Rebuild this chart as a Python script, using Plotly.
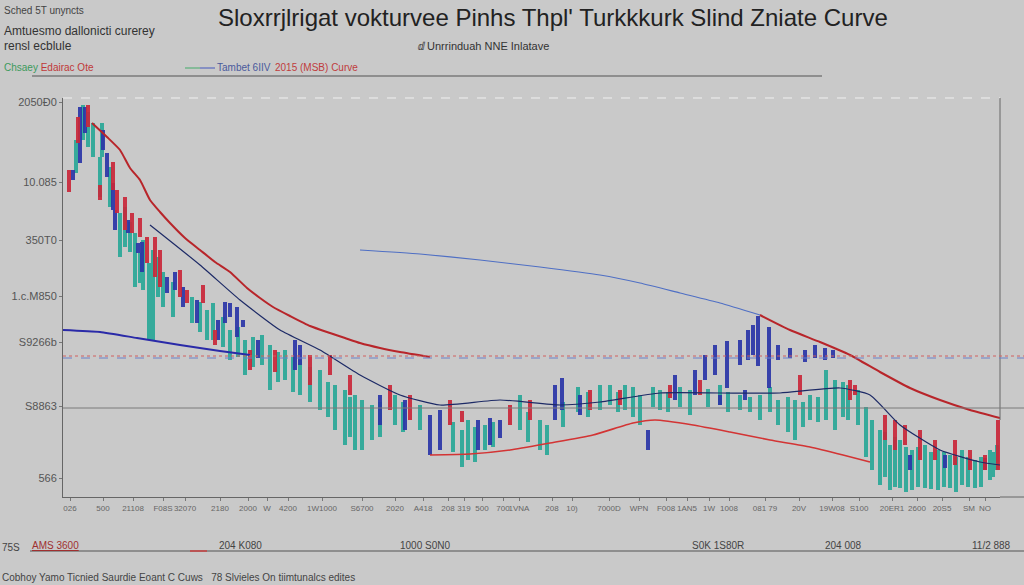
import plotly.graph_objects as go

# ---- data (arbitrary units) ----
red_upper_x = [29, 44, 57, 67, 77, 87, 97, 107, 122, 137, 152, 167, 184, 197, 210, 227, 247, 267, 282, 297, 317, 337, 367]
red_upper_y = [374, 360, 347, 329, 317, 297, 285, 274, 259, 247, 235, 225, 209, 199, 190, 181, 171, 164, 159, 154, 149, 145, 140]

thin_blue_x = [297, 357, 417, 477, 537, 577, 617, 657, 697]
thin_blue_y = [247, 243, 237, 230, 222, 214, 204, 194, 182]

red_right_x = [697, 727, 757, 787, 817, 847, 877, 907, 937]
red_right_y = [182, 167, 155, 142, 125, 109, 97, 87, 79]

red_lower_x = [367, 407, 447, 487, 530, 570, 592, 630, 667, 707, 747, 780, 807]
red_lower_y = [42, 43, 47, 54, 62, 74, 77, 72, 65, 57, 50, 42, 35]

blue_left_x = [0, 37, 74, 117, 157, 187]
blue_left_y = [167, 165, 159, 152, 146, 142]

navy_x = [87, 137, 177, 217, 257, 297, 337, 377, 437, 497, 537, 597, 657, 717, 777, 807, 837, 877, 917, 937]
navy_y = [272, 232, 197, 167, 147, 122, 102, 92, 97, 92, 95, 104, 104, 104, 109, 102, 72, 47, 35, 32]

teal_x = [13, 20, 30, 37, 39, 57, 72, 77, 80, 86, 90, 129, 144, 150, 167, 182, 199, 207, 222, 237, 257, 272, 282, 292,
          299, 309, 332, 357, 399, 405, 422, 457, 477, 484, 537, 547, 562, 577, 597, 627, 657, 677, 697, 715, 732, 747,
          763, 772, 785, 795, 809, 817, 827, 837, 849, 862, 875, 887, 899, 912, 927, 934,
          25, 47, 62, 67, 95, 100, 110, 137, 160, 175, 190, 215, 230, 247, 265, 287, 317, 340, 390, 412, 430, 465,
          500, 515, 525, 555, 570, 590, 605, 617, 645, 665, 687, 707, 725, 740, 755, 780, 803, 822, 832, 843, 855,
          868, 881, 893, 905, 918, 930]
teal_lo = [324, 357, 340, 300, 340, 240, 210, 214, 207, 157, 157, 174, 157, 157, 137, 122, 132, 107, 117, 102, 87, 67, 52, 47,
           47, 57, 72, 67, 30, 37, 47, 67, 47, 42, 87, 92, 87, 72, 87, 82, 92, 87, 77, 72, 57, 77,
           77, 67, 77, 72, 27, 12, 7, 9, 7, 9, 7, 9, 12, 9, 17, 27,
           350, 290, 250, 245, 200, 190, 180, 165, 150, 140, 130, 115, 105, 95, 80, 60, 60, 65, 45, 35, 50, 55,
           70, 85, 80, 85, 80, 90, 85, 90, 90, 85, 85, 85, 65, 70, 75, 80, 40, 20, 10, 5, 10,
           8, 10, 5, 10, 10, 20]
teal_hi = [357, 392, 374, 340, 374, 284, 264, 244, 257, 234, 247, 200, 187, 194, 167, 157, 162, 152, 147, 137, 127, 112, 107, 102,
           97, 92, 102, 92, 67, 77, 72, 102, 77, 72, 112, 112, 112, 102, 107, 107, 112, 102, 102, 97, 97, 102,
           127, 117, 112, 107, 77, 67, 52, 57, 47, 52, 47, 42, 47, 37, 47, 52,
           385, 330, 290, 275, 240, 225, 215, 195, 180, 170, 160, 145, 140, 130, 115, 100, 95, 95, 75, 70, 75, 85,
           95, 110, 105, 105, 110, 110, 105, 110, 108, 105, 100, 110, 100, 95, 100, 115, 90, 65, 60, 50, 50,
           45, 45, 40, 40, 40, 45]

blue_x = [10, 17, 22, 40, 44, 50, 52, 65, 75, 79, 104, 112, 120, 134, 155, 162, 167, 174, 180, 195, 232, 237, 317, 342,
          367, 377, 415, 427, 437, 492, 499, 517, 585, 612, 632, 642, 652, 664, 677, 685, 690, 695, 706, 715, 727, 742,
          752, 762, 770, 657, 682, 847, 882, 922]
blue_lo = [317, 334, 364, 347, 320, 287, 267, 264, 244, 225, 204, 207, 190, 174, 157, 174, 180, 160, 170, 139, 127, 132, 72, 67,
           42, 47, 47, 52, 59, 77, 87, 82, 47, 97, 102, 117, 122, 109, 132, 137, 142, 131, 109, 137, 139, 135,
           139, 137, 139, 92, 97, 27, 29, 27]
blue_hi = [327, 390, 390, 367, 344, 314, 287, 277, 254, 255, 220, 225, 210, 197, 177, 195, 194, 190, 177, 157, 157, 152, 102, 97,
           82, 87, 77, 79, 77, 112, 119, 102, 67, 122, 127, 142, 152, 156, 157, 167, 172, 181, 170, 152, 149, 147,
           152, 149, 147, 102, 107, 42, 42, 39]

red_x = [6, 15, 25, 37, 50, 54, 62, 69, 77, 84, 92, 97, 117, 124, 140, 152, 187, 212, 247, 267, 287, 327, 347, 387, 399,
         447, 467, 527, 557, 607, 637, 737, 787, 792, 822, 832, 842, 857, 872, 892, 907, 922, 935]
red_lo = [305, 354, 370, 297, 307, 284, 267, 264, 260, 234, 220, 210, 200, 194, 194, 152, 127, 125, 112, 122, 102, 87, 77, 72, 75,
          72, 77, 87, 92, 99, 102, 102, 97, 102, 57, 47, 52, 37, 37, 32, 27, 27, 27]
red_hi = [327, 380, 392, 312, 335, 307, 300, 284, 279, 260, 260, 247, 227, 207, 212, 167, 147, 147, 142, 142, 122, 112, 102, 97, 86,
          92, 97, 107, 107, 112, 117, 122, 117, 112, 82, 77, 72, 67, 57, 57, 47, 42, 77]

y_tickvals = [395, 315, 257, 201, 155, 91, 19]
y_ticktext = ["2050Ð0", "10.085", "350T0", "1.c.M850", "S9266b", "S8863", "566"]

x_tickvals = [7, 40, 70, 100, 122, 157, 185, 204, 225, 259, 299, 332, 360, 385, 401, 419, 440, 456, 489, 509, 546,
              576, 603, 624, 646, 666, 702, 736, 769, 796, 829, 854, 879, 906, 922]
x_ticktext = ["026", "500", "21108", "F08S", "32070", "2180", "2000", "W", "4200", "1W1000", "S6700", "2020", "A418",
              "208", "319", "500", "700", "1VNA", "208", "10)", "7000D", "WPN", "F008", "1AN5", "1W", "1008", "081 79",
              "20V", "19W08", "S100", "20ER1", "2600", "20S5", "SM", "NO"]

BG = "#c9c9c9"
FONT = "Liberation Sans, Arial, sans-serif"


def px(x):
    return (x - 63) / 937


def py(y):
    return (497 - y) / 399


fig = go.Figure()

# floating bars (candles)
for xs, lo, hi, col, w in [(teal_x, teal_lo, teal_hi, "#2aa898", 4.5),
                           (blue_x, blue_lo, blue_hi, "#2b36a8", 3.5),
                           (red_x, red_lo, red_hi, "#c9283a", 3.5)]:
    fig.add_trace(go.Bar(x=xs, base=lo, y=[h - l for l, h in zip(lo, hi)], width=w,
                         marker=dict(color=col, line=dict(width=0)), opacity=0.92))

lines = [
    (navy_x, navy_y, "#1d2a66", 1.2),
    (red_lower_x, red_lower_y, "#d33434", 1.6),
    (blue_left_x, blue_left_y, "#2a2aa8", 2),
    (thin_blue_x, thin_blue_y, "#4f6fc4", 1.1),
    (red_upper_x, red_upper_y, "#b8252a", 2),
    (red_right_x, red_right_y, "#b8252a", 2),
]
for xs, ys, col, w in lines:
    fig.add_trace(go.Scatter(x=xs, y=ys, mode="lines", line=dict(color=col, width=w, shape="spline", smoothing=0.5)))

shapes = [
    # top dashed border
    dict(type="line", xref="paper", yref="paper", x0=0, x1=1, y0=1, y1=1, line=dict(color="#f0f0f0", width=1, dash="dash")),
    # right border
    dict(type="line", xref="paper", yref="paper", x0=1, x1=1, y0=1, y1=py(420), line=dict(color="#666", width=1)),
    # horizontal reference lines
    dict(type="line", xref="paper", yref="paper", x0=0, x1=px(1024), y0=py(408), y1=py(408), line=dict(color="#7a7a7a", width=1)),
    dict(type="line", xref="paper", yref="paper", x0=0, x1=px(1024), y0=py(356), y1=py(356), line=dict(color="#d06060", width=1, dash="dot")),
    dict(type="line", xref="paper", yref="paper", x0=0, x1=px(1024), y0=py(358), y1=py(358), line=dict(color="#6a80c8", width=1, dash="dash")),
    # bottom axis extension
    dict(type="line", xref="paper", yref="paper", x0=1, x1=px(1024), y0=0, y1=0, line=dict(color="#666", width=1)),
    # line under legend
    dict(type="line", xref="paper", yref="paper", x0=px(32), x1=px(822), y0=py(76), y1=py(76), line=dict(color="#555", width=1.2)),
    # legend swatch
    dict(type="line", xref="paper", yref="paper", x0=px(185), x1=px(200), y0=py(68), y1=py(68), line=dict(color="#5ab07a", width=1.2)),
    dict(type="line", xref="paper", yref="paper", x0=px(200), x1=px(215), y0=py(68), y1=py(68), line=dict(color="#5a6ac0", width=1.2)),
    # bottom secondary strip
    dict(type="line", xref="paper", yref="paper", x0=px(30), x1=px(1024), y0=py(551), y1=py(551), line=dict(color="#555", width=1.2)),
    dict(type="line", xref="paper", yref="paper", x0=px(190), x1=px(207), y0=py(551), y1=py(551), line=dict(color="#c84040", width=1.5)),
]


def note(text, x, y, size=10, color="#444", anchor="left"):
    return dict(text=text, xref="paper", yref="paper", x=px(x), y=py(y), xanchor=anchor, yanchor="middle",
                showarrow=False, font=dict(size=size, color=color, family=FONT))


annotations = [
    note("Sloxrrjlrigat vokturvee Pinhs Thpl' Turkkkurk Slind Zniate Curve", 553, 17, 24, "#222", "center"),
    note("ⅆ Unrrinduah NNE Inlatave", 416, 46, 11, "#333"),
    note("Sched 5T unyncts", 2, 10, 10, "#444"),
    note("Amtuesmo dallonicti curerey", 2, 31, 12, "#333"),
    note("rensl ecblule", 2, 46, 12, "#333"),
    note("<span style='color:#3c9a5c'>Chsaey</span> Edairac Ote", 2, 68, 10, "#c03838"),
    note("Tambet 6IIV", 215, 68, 10, "#4a5a9c"),
    note("2015 (MSB) Curve", 273, 68, 10, "#c03c3c"),
    note("75S", 0, 547, 10, "#444"),
    note("<u>AMS 3600</u>", 30, 545, 10, "#a03030"),
    note("204 K080", 217, 545, 10, "#444"),
    note("1000 S0N0", 398, 545, 10, "#444"),
    note("S0K 1S80R", 690, 545, 10, "#444"),
    note("204 008", 823, 545, 10, "#444"),
    note("11/2 888", 970, 545, 10, "#444"),
    note("Cobhoy Yamo Ticnied Saurdie Eoant C Cuws   78 Slvieles On tiimtunalcs edites", 0, 577, 10, "#444"),
]

fig.update_layout(
    width=1024, height=585,
    margin=dict(l=63, r=24, t=98, b=88),
    paper_bgcolor=BG, plot_bgcolor=BG,
    showlegend=False, barmode="overlay", bargap=0,
    font=dict(family=FONT, color="#555"),
    shapes=shapes, annotations=annotations,
    xaxis=dict(range=[0, 937], showgrid=False, zeroline=False, showline=True, linecolor="#666",
               ticks="outside", ticklen=3, tickcolor="#777", tickvals=x_tickvals, ticktext=x_ticktext,
               tickangle=0, tickfont=dict(size=8, color="#666")),
    yaxis=dict(range=[0, 399], showgrid=False, zeroline=False, showline=True, linecolor="#666",
               ticks="outside", ticklen=3, tickcolor="#777", tickvals=y_tickvals, ticktext=y_ticktext,
               tickfont=dict(size=11, color="#555")),
)

# drop the default page margin so the figure sits at the window's corner
fig.write_html("out.html", config={"displayModeBar": False},
               post_script="document.body.style.margin='0';document.body.style.overflow='hidden';")
